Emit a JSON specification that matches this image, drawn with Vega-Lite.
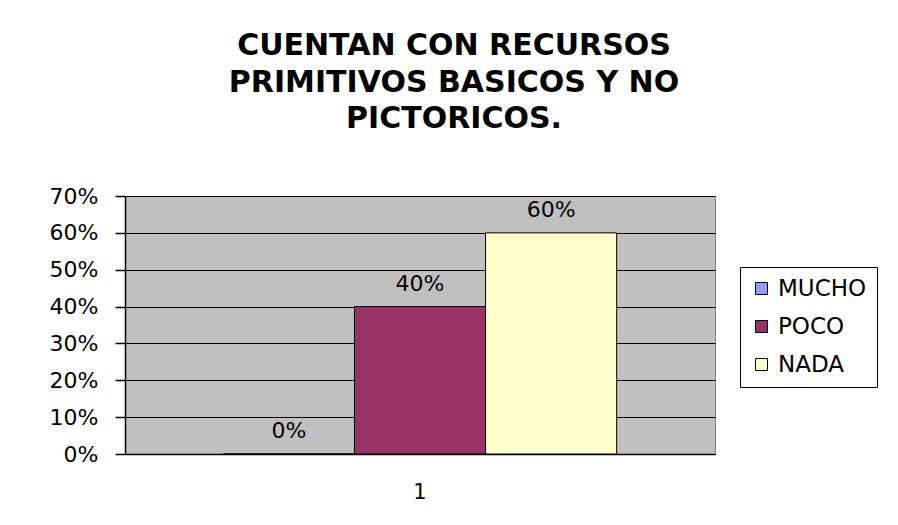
{
  "$schema": "https://vega.github.io/schema/vega-lite/v6.json",
  "width": 590,
  "height": 258,
  "autosize": {"type": "none"},
  "padding": {"left": 125, "top": 196, "right": 183, "bottom": 71},
  "background": "white",
  "config": {
    "view": {"fill": "#c0c0c0", "stroke": "#808080", "strokeWidth": 1},
    "font": "DejaVu Sans"
  },
  "title": {
    "text": ["CUENTAN CON RECURSOS", "PRIMITIVOS BASICOS Y NO", "PICTORICOS."],
    "fontSize": 30,
    "font": "DejaVu Sans",
    "fontWeight": "bold",
    "color": "black",
    "lineHeight": 36.5,
    "anchor": "middle",
    "dx": 34,
    "offset": 51
  },
  "data": {
    "values": [
      {"cat": "1", "serie": "MUCHO", "valor": 0},
      {"cat": "1", "serie": "POCO", "valor": 0.4},
      {"cat": "1", "serie": "NADA", "valor": 0.6}
    ]
  },
  "encoding": {
    "x": {
      "field": "cat",
      "type": "nominal",
      "scale": {"paddingOuter": 0.25, "paddingInner": 0},
      "axis": {
        "title": null,
        "labelAngle": 0,
        "labelFont": "DejaVu Sans",
        "labelFontSize": 21,
        "labelColor": "black",
        "labelPadding": 27,
        "ticks": false,
        "domainColor": "black",
        "domainWidth": 1.5,
        "grid": false
      }
    },
    "xOffset": {
      "field": "serie",
      "type": "nominal",
      "sort": ["MUCHO", "POCO", "NADA"],
      "scale": {"paddingInner": 0, "paddingOuter": 0}
    },
    "y": {
      "field": "valor",
      "type": "quantitative",
      "scale": {"domain": [0, 0.7], "nice": false},
      "axis": {
        "title": null,
        "format": ".0%",
        "values": [0, 0.1, 0.2, 0.3, 0.4, 0.5, 0.6, 0.7],
        "labelFont": "DejaVu Sans",
        "labelFontSize": 22,
        "labelColor": "black",
        "labelPadding": 17,
        "tickSize": 10,
        "tickColor": "black",
        "tickWidth": 1.5,
        "domainColor": "black",
        "domainWidth": 1.5,
        "grid": true,
        "gridColor": "black",
        "gridWidth": 1.2,
        "gridOpacity": 1
      }
    }
  },
  "layer": [
    {
      "mark": {"type": "bar", "stroke": "black", "strokeWidth": 1},
      "encoding": {
        "color": {
          "field": "serie",
          "type": "nominal",
          "scale": {
            "domain": ["MUCHO", "POCO", "NADA"],
            "range": ["#9999ff", "#993366", "#ffffcc"]
          },
          "legend": {
            "title": null,
            "orient": "none",
            "legendX": 615,
            "legendY": 71,
            "strokeColor": "black",
            "fillColor": "white",
            "padding": 10,
            "symbolType": "square",
            "symbolSize": 144,
            "symbolStrokeColor": "black",
            "symbolStrokeWidth": 1,
            "symbolOpacity": 1,
            "labelFont": "DejaVu Sans",
            "labelFontSize": 23,
            "labelColor": "black",
            "labelOffset": 5,
            "rowPadding": 14
          }
        }
      }
    },
    {
      "mark": {"type": "text", "dy": -23, "fontSize": 22, "font": "DejaVu Sans", "color": "black", "baseline": "middle"},
      "encoding": {
        "text": {"field": "valor", "type": "quantitative", "format": ".0%"}
      }
    }
  ]
}
